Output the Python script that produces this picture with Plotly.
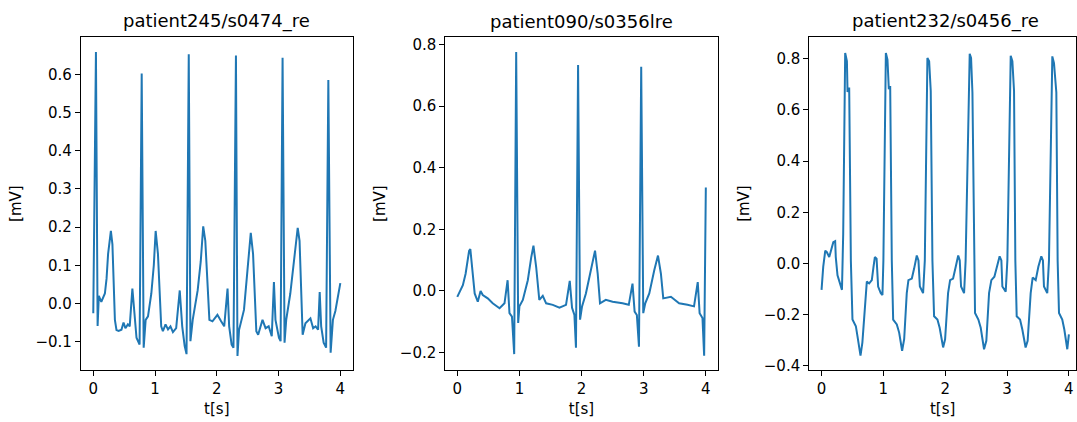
import plotly.graph_objects as go

titles = ["patient245/s0474_re", "patient090/s0356lre", "patient232/s0456_re"]

# Panel 1 (patient245/s0474_re): time [s], voltage [mV]
t1 = [0.0, 0.043, 0.07, 0.09, 0.13, 0.188, 0.215, 0.24, 0.285, 0.31, 0.35, 0.376, 0.41, 0.456, 0.49, 0.52, 0.56, 0.59, 0.633, 0.67,
      0.70, 0.75, 0.784, 0.816, 0.848, 0.886, 0.94, 0.98, 1.01, 1.047, 1.1, 1.127, 1.17, 1.21, 1.25, 1.29, 1.342, 1.40, 1.44, 1.48,
      1.51, 1.546, 1.573, 1.61, 1.69, 1.74, 1.78, 1.814, 1.88, 1.93, 2.01, 2.07, 2.12, 2.174, 2.2, 2.24, 2.27, 2.31, 2.335, 2.36,
      2.44, 2.496, 2.55, 2.587, 2.64, 2.67, 2.74, 2.79, 2.84, 2.89, 2.925, 2.95, 3.006, 3.033, 3.065, 3.097, 3.124, 3.19, 3.25, 3.31,
      3.34, 3.39, 3.435, 3.516, 3.56, 3.6, 3.64, 3.666, 3.69, 3.73, 3.77, 3.806, 3.843, 3.88, 3.92, 4.0]
v1 = [-0.026, 0.659, -0.059, 0.02, 0.004, 0.026, 0.065, 0.13, 0.19, 0.155, -0.043, -0.07, -0.072, -0.069, -0.05, -0.065, -0.055, -0.06, 0.039, -0.043,
      -0.09, -0.108, 0.603, -0.116, -0.043, -0.034, 0.026, 0.1, 0.19, 0.13, -0.06, -0.073, -0.055, -0.068, -0.06, -0.075, -0.065, 0.034, -0.06, -0.112,
      -0.133, 0.653, -0.099, -0.043, 0.034, 0.11, 0.202, 0.164, -0.043, -0.047, -0.03, -0.047, -0.06, 0.039, -0.06, -0.108, -0.116, 0.65, -0.138, -0.07,
      -0.017, 0.086, 0.185, 0.13, -0.073, -0.082, -0.043, -0.065, -0.06, -0.086, 0.056, -0.043, -0.09, -0.099, 0.644, -0.103, -0.043, 0.026, 0.112, 0.198,
      0.164, -0.082, -0.052, -0.039, -0.065, -0.06, -0.069, 0.03, -0.06, -0.103, -0.116, 0.586, -0.129, -0.043, -0.02, 0.053]

# Panel 2 (patient090/s0356lre)
t2 = [0.0, 0.037, 0.09, 0.134, 0.19, 0.21, 0.24, 0.28, 0.33, 0.375, 0.41, 0.49, 0.57, 0.68, 0.76, 0.81, 0.84, 0.88, 0.916, 0.948,
      0.98, 1.0, 1.055, 1.135, 1.19, 1.226, 1.27, 1.32, 1.376, 1.43, 1.537, 1.644, 1.75, 1.81, 1.847, 1.885, 1.91, 1.944, 1.976, 2.008,
      2.07, 2.15, 2.217, 2.26, 2.297, 2.39, 2.5, 2.66, 2.76, 2.82, 2.854, 2.89, 2.924, 2.96, 2.993, 3.025, 3.09, 3.17, 3.23, 3.277,
      3.315, 3.438, 3.57, 3.705, 3.81, 3.87, 3.9, 3.946, 3.973, 4.0]
v2 = [-0.019, -0.002, 0.019, 0.056, 0.13, 0.136, 0.077, -0.008, -0.035, 0.0, -0.013, -0.024, -0.04, -0.056, -0.04, 0.035, -0.072, -0.083, -0.205, 0.776,
      -0.104, -0.05, -0.029, 0.035, 0.109, 0.147, 0.077, -0.029, -0.016, -0.04, -0.045, -0.054, -0.045, 0.033, -0.055, -0.078, -0.184, 0.734, -0.093, -0.05,
      -0.008, 0.067, 0.131, 0.056, -0.04, -0.029, -0.035, -0.04, -0.045, 0.024, -0.067, -0.078, -0.181, 0.728, -0.072, -0.04, -0.008, 0.067, 0.115, 0.056,
      -0.024, -0.019, -0.04, -0.045, -0.05, 0.029, -0.072, -0.088, -0.21, 0.336]

# Panel 3 (patient232/s0456_re)
t3 = [0.0, 0.027, 0.06, 0.086, 0.124, 0.16, 0.19, 0.22, 0.23, 0.258, 0.296, 0.33, 0.35, 0.382, 0.41, 0.42, 0.447, 0.474, 0.5, 0.555,
      0.58, 0.63, 0.66, 0.705, 0.732, 0.77, 0.813, 0.84, 0.862, 0.89, 0.915, 0.958, 0.985, 1.0, 1.04, 1.066, 1.088, 1.11, 1.136, 1.158,
      1.217, 1.255, 1.303, 1.336, 1.378, 1.405, 1.46, 1.497, 1.54, 1.567, 1.59, 1.642, 1.67, 1.712, 1.74, 1.766, 1.793, 1.82, 1.874, 1.91,
      1.966, 1.998, 2.046, 2.079, 2.127, 2.17, 2.21, 2.235, 2.256, 2.305, 2.33, 2.396, 2.418, 2.44, 2.466, 2.482, 2.536, 2.574, 2.628, 2.665,
      2.709, 2.746, 2.795, 2.843, 2.88, 2.908, 2.924, 2.978, 3.005, 3.059, 3.086, 3.113, 3.134, 3.156, 3.21, 3.247, 3.3, 3.333, 3.382, 3.414,
      3.463, 3.506, 3.554, 3.58, 3.597, 3.65, 3.678, 3.732, 3.759, 3.797, 3.818, 3.84, 3.893, 3.926, 3.974, 4.0]
v3 = [-0.103, -0.013, 0.05, 0.044, 0.025, 0.057, 0.083, 0.087, 0.025, -0.046, -0.078, -0.103, 0.115, 0.822, 0.79, 0.67, 0.687, 0.012, -0.219, -0.245,
      -0.283, -0.36, -0.309, -0.155, -0.071, -0.078, -0.065, -0.013, 0.025, 0.019, -0.09, -0.116, -0.123, 0.012, 0.822, 0.796, 0.681, 0.693, 0.012, -0.219,
      -0.238, -0.27, -0.341, -0.296, -0.116, -0.065, -0.059, -0.02, 0.031, 0.012, -0.09, -0.116, 0.012, 0.803, 0.79, 0.674, 0.012, -0.206, -0.219, -0.251,
      -0.328, -0.296, -0.116, -0.065, -0.059, -0.013, 0.031, 0.012, -0.09, -0.116, 0.012, 0.819, 0.803, 0.668, 0.012, -0.193, -0.219, -0.251, -0.335, -0.302,
      -0.116, -0.065, -0.052, -0.007, 0.028, 0.012, -0.09, -0.11, 0.012, 0.811, 0.79, 0.674, 0.012, -0.206, -0.219, -0.258, -0.328, -0.302, -0.116, -0.055,
      -0.065, -0.013, 0.028, 0.012, -0.09, -0.116, 0.012, 0.809, 0.783, 0.668, 0.012, -0.193, -0.219, -0.258, -0.335, -0.277]

x_ticks = [0, 1, 2, 3, 4]
y_ticks1 = [-0.1, 0.0, 0.1, 0.2, 0.3, 0.4, 0.5, 0.6]
y_ticks2 = [-0.2, 0.0, 0.2, 0.4, 0.6, 0.8]
y_ticks3 = [-0.4, -0.2, 0.0, 0.2, 0.4, 0.6, 0.8]

W, H = 1077, 422
color = "#1f77b4"
font = "DejaVu Sans"

panels = [
    dict(t=t1, v=v1, yt=y_ticks1, xd=(81, 353), xr=(-0.2, 4.2), yr=(-0.1745, 0.698)),
    dict(t=t2, v=v2, yt=y_ticks2, xd=(445.7, 718.3), xr=(-0.193, 4.19), yr=(-0.2565, 0.824)),
    dict(t=t3, v=v3, yt=y_ticks3, xd=(810, 1077), xr=(-0.199, 4.115), yr=(-0.416, 0.884)),
]
panel_w = 272
y_top, y_bot = 36.7, 374.3
ydom = [(H - y_bot) / H, (H - y_top) / H]

fig = go.Figure()
layout = dict(width=W, height=H, autosize=False, margin=dict(l=0, r=0, t=0, b=0),
              paper_bgcolor="white", plot_bgcolor="white", showlegend=False,
              font=dict(family=font, size=15, color="black"))
annotations = []
for i, p in enumerate(panels):
    n = "" if i == 0 else str(i + 1)
    fig.add_trace(go.Scatter(x=p["t"], y=p["v"], mode="lines",
                             line=dict(color=color, width=2),
                             xaxis="x" + n, yaxis="y" + n, hoverinfo="skip"))
    xd = [p["xd"][0] / W, min(p["xd"][1] / W, 1.0)]
    common = dict(showline=True, linecolor="black", linewidth=1, mirror=True,
                  ticks="outside", ticklen=5, tickwidth=1, tickcolor="black",
                  showgrid=False, zeroline=False,
                  tickfont=dict(family=font, size=15, color="black"))
    layout["xaxis" + n] = dict(common, domain=xd, range=list(p["xr"]), anchor="y" + n,
                               tickvals=x_ticks, ticktext=[str(v) for v in x_ticks],
                               title=dict(text="t[s]", font=dict(family=font, size=15), standoff=6))
    layout["yaxis" + n] = dict(common, domain=ydom, range=list(p["yr"]), anchor="x" + n,
                               tickvals=p["yt"], tickformat=".1f",
                               title=dict(text="[mV]", font=dict(family=font, size=15), standoff=10))
    cx = (p["xd"][0] + panel_w / 2) / W
    annotations.append(dict(text=titles[i], x=cx, y=ydom[1], xref="paper", yref="paper",
                            xanchor="center", yanchor="bottom", yshift=3, showarrow=False,
                            font=dict(family=font, size=18, color="black")))
layout["annotations"] = annotations
fig.update_layout(**layout)
fig.write_html("out.html")
